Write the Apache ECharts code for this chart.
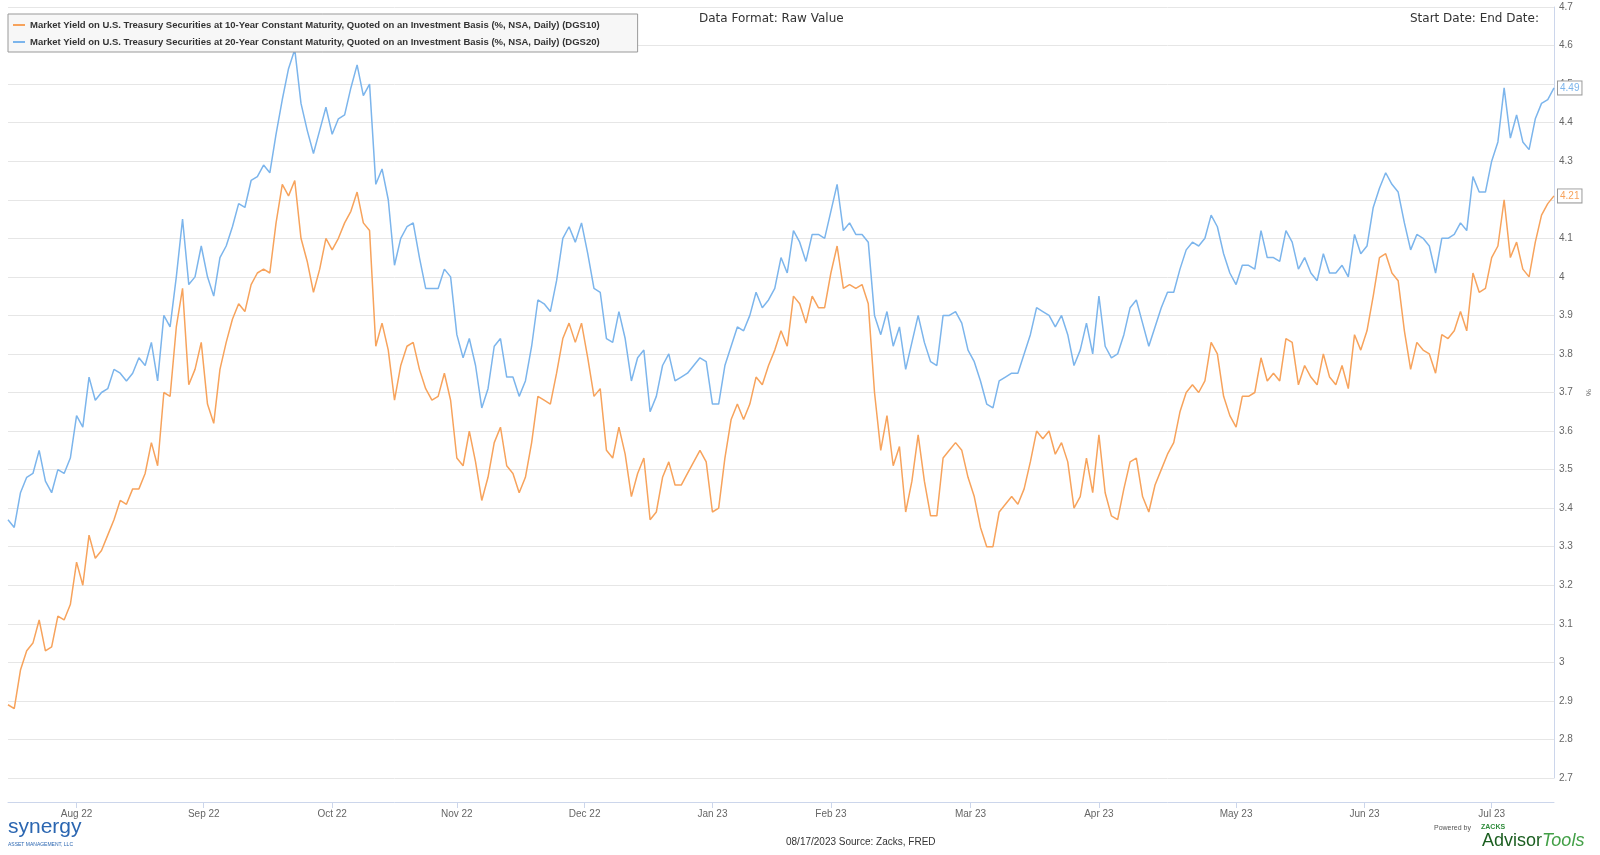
<!DOCTYPE html>
<html><head><meta charset="utf-8">
<script src="https://cdn.jsdelivr.net/npm/echarts@6/dist/echarts.min.js"></script>
<style>html,body{margin:0;padding:0;background:#fff}#c{width:1600px;height:855px}</style>
</head><body><div id="c"></div>
<script>
const seriesNames = [
  'Market Yield on U.S. Treasury Securities at 10-Year Constant Maturity, Quoted on an Investment Basis (%, NSA, Daily) (DGS10)',
  'Market Yield on U.S. Treasury Securities at 20-Year Constant Maturity, Quoted on an Investment Basis (%, NSA, Daily) (DGS20)'
];
const dgs10 = [2.89,2.88,2.98,3.03,3.05,3.11,3.03,3.04,3.12,3.11,
 3.15,3.26,3.20,3.33,3.27,3.29,3.33,3.37,3.42,3.41,
 3.45,3.45,3.49,3.57,3.51,3.70,3.69,3.87,3.97,3.72,
 3.76,3.83,3.67,3.62,3.76,3.83,3.89,3.93,3.91,3.98,
 4.01,4.02,4.01,4.14,4.24,4.21,4.25,4.10,4.04,3.96,
 4.02,4.10,4.07,4.10,4.14,4.17,4.22,4.14,4.12,3.82,
 3.88,3.81,3.68,3.77,3.82,3.83,3.76,3.71,3.68,3.69,
 3.75,3.68,3.53,3.51,3.60,3.52,3.42,3.48,3.57,3.61,
 3.51,3.49,3.44,3.48,3.57,3.69,3.68,3.67,3.75,3.84,
 3.88,3.83,3.88,3.79,3.69,3.71,3.55,3.53,3.61,3.54,
 3.43,3.49,3.53,3.37,3.39,3.48,3.52,3.46,3.46,3.49,
 3.52,3.55,3.52,3.39,3.40,3.53,3.63,3.67,3.63,3.67,
 3.74,3.72,3.77,3.81,3.86,3.82,3.95,3.93,3.88,3.95,
 3.92,3.92,4.01,4.08,3.97,3.98,3.97,3.98,3.93,3.70,
 3.55,3.64,3.51,3.56,3.39,3.47,3.59,3.47,3.38,3.38,
 3.53,3.55,3.57,3.55,3.48,3.43,3.35,3.30,3.30,3.39,
 3.41,3.43,3.41,3.45,3.52,3.60,3.58,3.60,3.54,3.57,
 3.52,3.40,3.43,3.53,3.44,3.59,3.44,3.38,3.37,3.45,
 3.52,3.53,3.43,3.39,3.46,3.50,3.54,3.57,3.65,3.70,
 3.72,3.70,3.73,3.83,3.80,3.69,3.64,3.61,3.69,3.69,
 3.70,3.79,3.73,3.75,3.73,3.84,3.83,3.72,3.77,3.74,
 3.72,3.80,3.74,3.72,3.77,3.71,3.85,3.81,3.86,3.95,
 4.05,4.06,4.01,3.99,3.86,3.76,3.83,3.81,3.80,3.75,
 3.85,3.84,3.86,3.91,3.86,4.01,3.96,3.97,4.05,4.08,
 4.20,4.05,4.09,4.02,4.00,4.09,4.16,4.19,4.21];
const dgs20 = [3.37,3.35,3.44,3.48,3.49,3.55,3.47,3.44,3.50,3.49,
 3.53,3.64,3.61,3.74,3.68,3.70,3.71,3.76,3.75,3.73,
 3.75,3.79,3.77,3.83,3.73,3.90,3.87,4.00,4.15,3.98,
 4.00,4.08,4.00,3.95,4.05,4.08,4.13,4.19,4.18,4.25,
 4.26,4.29,4.27,4.37,4.46,4.54,4.59,4.45,4.38,4.32,
 4.38,4.44,4.37,4.41,4.42,4.49,4.55,4.47,4.50,4.24,
 4.28,4.20,4.03,4.10,4.13,4.14,4.05,3.97,3.97,3.97,
 4.02,4.00,3.85,3.79,3.84,3.77,3.66,3.71,3.82,3.84,
 3.74,3.74,3.69,3.73,3.82,3.94,3.93,3.91,3.99,4.10,
 4.13,4.09,4.14,4.06,3.97,3.96,3.84,3.83,3.91,3.84,
 3.73,3.79,3.81,3.65,3.69,3.77,3.80,3.73,3.74,3.75,
 3.77,3.79,3.78,3.67,3.67,3.77,3.82,3.87,3.86,3.90,
 3.96,3.92,3.94,3.97,4.05,4.01,4.12,4.09,4.04,4.11,
 4.11,4.10,4.17,4.24,4.12,4.14,4.11,4.11,4.09,3.90,
 3.85,3.91,3.82,3.87,3.76,3.83,3.90,3.83,3.78,3.77,
 3.90,3.90,3.91,3.88,3.81,3.78,3.73,3.67,3.66,3.73,
 3.74,3.75,3.75,3.80,3.85,3.92,3.91,3.90,3.87,3.90,
 3.85,3.77,3.81,3.88,3.80,3.95,3.82,3.79,3.80,3.85,
 3.92,3.94,3.88,3.82,3.87,3.92,3.96,3.96,4.02,4.07,
 4.09,4.08,4.10,4.16,4.13,4.06,4.01,3.98,4.03,4.03,
 4.02,4.12,4.05,4.05,4.04,4.12,4.09,4.02,4.05,4.01,
 3.99,4.06,4.01,4.01,4.03,4.00,4.11,4.06,4.08,4.18,
 4.23,4.27,4.24,4.22,4.14,4.07,4.11,4.10,4.08,4.01,
 4.10,4.10,4.11,4.14,4.12,4.26,4.22,4.22,4.30,4.35,
 4.49,4.36,4.42,4.35,4.33,4.41,4.45,4.46,4.49];
// x tick positions (in trading-day index units) and their labels
const tickPos = [11, 31.4, 52, 72, 92.5, 113, 132, 154.4, 175, 197, 217.6, 238];
const tickLabels = ['Aug 22','Sep 22','Oct 22','Nov 22','Dec 22','Jan 23','Feb 23','Mar 23','Apr 23','May 23','Jun 23','Jul 23'];
const yMin = 2.7, yMax = 4.7, yStep = 0.1;
const colors = ['#f7a35c', '#7cb5ec'];

const SANS = '"Liberation Sans", Arial, sans-serif';
const chart = echarts.init(document.getElementById('c'), null, {renderer: 'canvas'});
const toPairs = arr => arr.map((v, i) => [i, v]);

function mkSeries(name, data, color) {
  return {
    name: name, type: 'line', data: toPairs(data), showSymbol: false, symbol: 'none',
    lineStyle: {color: color, width: 1.5}, itemStyle: {color: color},
    emphasis: {disabled: true},
    endLabel: {
      show: true, distance: 4,
      formatter: p => p.value[1].toFixed(2),
      color: color, fontSize: 10, fontFamily: SANS,
      backgroundColor: '#fff', borderColor: '#999', borderWidth: 1, padding: [2, 2, 1, 2]
    }
  };
}

chart.setOption({
  animation: false,
  backgroundColor: '#fff',
  color: colors,
  title: [
    {text: 'Data Format: Raw Value', left: 699, top: 13, padding: 0,
     textStyle: {fontSize: 12, fontWeight: 'normal', color: '#333', fontFamily: 'DejaVu Sans'}},
    {text: 'Start Date: End Date:', right: 61, top: 13, padding: 0,
     textStyle: {fontSize: 12, fontWeight: 'normal', color: '#333', fontFamily: 'DejaVu Sans'}},
    {text: '08/17/2023 Source: Zacks, FRED', left: 786, top: 837, padding: 0,
     textStyle: {fontSize: 10, fontWeight: 'normal', color: '#333', fontFamily: SANS}}
  ],
  legend: {
    data: seriesNames, orient: 'vertical', left: 8, top: 14,
    backgroundColor: '#f7f7f7', borderColor: '#999', borderWidth: 1,
    padding: [5, 38, 4, 5], itemGap: 5, itemWidth: 12, itemHeight: 2, icon: 'rect',
    textStyle: {fontSize: 9.5, fontWeight: 'bold', color: '#333', fontFamily: SANS, lineHeight: 12},
    selectedMode: false
  },
  grid: {left: 8, right: 46, top: 7, bottom: 77, containLabel: false, outerBoundsMode: 'none'},
  xAxis: {
    type: 'value', min: 0, max: dgs10.length - 1, offset: 24,
    axisLine: {show: true, onZero: false, lineStyle: {color: '#ccd6eb'}},
    axisTick: {show: true, length: 6, lineStyle: {color: '#ccd6eb'}, customValues: tickPos},
    axisLabel: {customValues: tickPos, margin: 7, color: '#666', fontSize: 10, fontFamily: SANS,
      formatter: v => { const k = tickPos.findIndex(t => Math.abs(t - v) < 1e-6); return k >= 0 ? tickLabels[k] : ''; }},
    splitLine: {show: false}
  },
  yAxis: {
    type: 'value', position: 'right', min: yMin, max: yMax, interval: yStep,
    name: '%', nameLocation: 'middle', nameGap: 8, nameRotate: -90,
    nameTextStyle: {color: '#666', fontSize: 8, fontFamily: SANS},
    axisLine: {show: true, onZero: false, lineStyle: {color: '#ccd6eb'}},
    axisTick: {show: false},
    axisLabel: {margin: 5, color: '#666', fontSize: 10, fontFamily: SANS,
      formatter: v => String(+v.toFixed(1))},
    splitLine: {show: true, lineStyle: {color: '#e6e6e6', width: 1}}
  },
  series: [mkSeries(seriesNames[0], dgs10, colors[0]), mkSeries(seriesNames[1], dgs20, colors[1])],
  graphic: [
    {type: 'text', left: 8, top: 817, style: {text: 'synergy', fill: '#2b66b1', font: '21px "Liberation Sans"'}},
    {type: 'text', left: 8, top: 842, style: {text: 'ASSET MANAGEMENT, LLC', fill: '#2b66b1', font: '5px "Liberation Sans"'}},
    {type: 'text', left: 1434, top: 825, style: {text: 'Powered by', fill: '#555', font: '7px "Liberation Sans"'}},
    {type: 'text', left: 1481, top: 824, style: {text: 'ZACKS', fill: '#2e8b3a', font: 'bold 7px "Liberation Sans"'}},
    {type: 'text', left: 1482, top: 832, style: {
      text: '{a|Advisor}{b|Tools}',
      rich: {a: {fill: '#1b5e20', fontSize: 18, fontFamily: SANS},
             b: {fill: '#43a047', fontSize: 18, fontFamily: SANS, fontStyle: 'italic'}}}}
  ]
});
</script></body></html>
